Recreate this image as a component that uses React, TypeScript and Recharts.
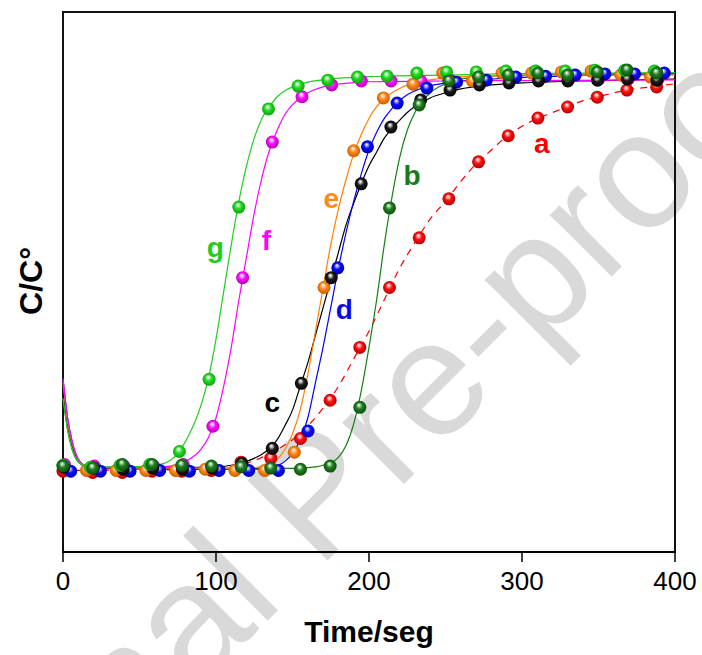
import React from "react";
import { ComposedChart, XAxis, YAxis, Line, Scatter, ReferenceArea } from "recharts";

const xTicks = [0, 100, 200, 300, 400];

// measured points (time, C/C°)
const tA = [0, 19.4, 38.8, 58.2, 77.6, 97, 116.4, 135.8, 155.2, 174.6, 194, 213.4, 232.8, 252.2, 271.6, 291, 310.4, 329.8, 349.2, 368.6, 388];
const vA = [-0.005, -0.008, -0.008, -0.005, -0.005, -0.003, 0.018, 0.028, 0.078, 0.175, 0.309, 0.461, 0.587, 0.686, 0.78, 0.846, 0.891, 0.919, 0.944, 0.962, 0.97];

const tB = [0, 19.4, 38.8, 58.2, 77.6, 97, 116.4, 135.8, 155.2, 174.6, 194, 213.4, 232.8, 252.2, 271.6, 291, 310.4, 329.8, 349.2, 368.6, 388];
const vB = [0.008, 0.003, 0.012, 0.012, 0.01, 0.008, 0.006, 0.003, 0.0, 0.008, 0.157, 0.663, 0.924, 0.985, 0.995, 1.0, 1.005, 1.0, 1.008, 1.013, 1.005];

const tC = [0.5, 19.9, 39.3, 58.7, 78.1, 97.5, 116.9, 136.8, 155.8, 175.3, 194.9, 214.3, 233.8, 253, 272.2, 291.5, 310.8, 330, 349.4, 368.8, 388.2];
const vC = [0.005, 0.003, 0.0, 0.003, 0.0, 0.003, 0.015, 0.053, 0.218, 0.486, 0.724, 0.868, 0.937, 0.962, 0.975, 0.98, 0.985, 0.985, 0.987, 0.99, 0.987];

const tD = [5, 24.4, 43.8, 63.2, 82.6, 102, 121.4, 140.8, 160.2, 179.6, 199, 218.4, 237.8, 257.2, 276.6, 296, 315.4, 334.8, 354.2, 373.6, 393];
const vD = [-0.005, -0.005, -0.005, -0.003, -0.005, -0.003, -0.003, -0.003, 0.097, 0.511, 0.818, 0.929, 0.967, 0.982, 0.987, 0.995, 0.997, 1.0, 1.003, 1.003, 1.005];

const tE = [15.4, 34.8, 54.2, 73.6, 93, 112.4, 131.8, 151.2, 170.6, 190, 209.4, 228.8, 248.2, 267.6, 287, 306.4, 325.8, 345.2, 364.6, 384];
const vE = [-0.003, -0.003, -0.003, -0.003, 0.0, -0.003, -0.003, 0.043, 0.461, 0.808, 0.942, 0.977, 1.005, 0.985, 1.005, 1.005, 1.008, 1.01, 1.0, 0.995];

const tF = [1, 20.4, 39.8, 59.2, 78.6, 98, 117.4, 136.8, 156.2, 175.6, 195, 214.4, 233.8, 253.2, 272.6, 292, 311.4, 330.8, 350.2, 369.6, 389];
const vF = [0.012, 0.008, 0.008, 0.008, 0.012, 0.109, 0.486, 0.83, 0.945, 0.975, 0.985, 0.985, 0.985, 0.987, 0.987, 0.987, 0.99, 0.99, 0.99, 0.99, 0.99];

const tG = [0, 17.9, 37.3, 56.7, 76.1, 95.5, 114.9, 134.3, 153.7, 173.1, 192.5, 211.9, 231.3, 250.7, 270.1, 289.5, 308.9, 328.3, 347.7, 367.1, 386.5];
const vG = [0.01, 0.005, 0.01, 0.012, 0.045, 0.228, 0.665, 0.914, 0.972, 0.987, 0.995, 0.997, 1.005, 1.008, 1.008, 1.01, 1.01, 1.01, 1.012, 1.012, 1.01];

// fitted curves
const fxA = [0, 100, 110, 120, 130, 140, 150, 160, 170, 180, 190, 200, 210, 220, 230, 240, 250, 260, 270, 280, 290, 300, 310, 320, 330, 340, 350, 360, 370, 380, 390, 400];
const fyA = [-0.003, 0.0, 0.005, 0.015, 0.03, 0.05, 0.075, 0.11, 0.155, 0.21, 0.28, 0.35, 0.43, 0.51, 0.575, 0.635, 0.68, 0.73, 0.775, 0.81, 0.845, 0.87, 0.89, 0.905, 0.92, 0.935, 0.945, 0.955, 0.963, 0.968, 0.973, 0.978];

const fxB = [0, 3, 6, 10, 15, 20, 60, 150, 160, 165, 170, 175, 180, 185, 190, 195, 200, 205, 210, 215, 220, 225, 230, 240, 250, 260, 280, 300, 350, 400];
const fyB = [0.18, 0.1, 0.05, 0.018, 0.006, 0.003, 0.002, 0.002, 0.004, 0.006, 0.01, 0.016, 0.03, 0.06, 0.115, 0.2, 0.31, 0.43, 0.57, 0.69, 0.79, 0.86, 0.905, 0.955, 0.978, 0.99, 0.997, 1.0, 1.003, 1.005];

const fxC = [0, 3, 6, 10, 15, 20, 60, 100, 110, 120, 130, 135, 140, 145, 150, 155, 160, 165, 170, 175, 180, 185, 190, 195, 200, 205, 210, 215, 220, 225, 230, 240, 250, 260, 280, 300, 350, 400];
const fyC = [0.2, 0.11, 0.06, 0.022, 0.008, 0.005, 0.005, 0.005, 0.01, 0.02, 0.038, 0.052, 0.075, 0.11, 0.15, 0.21, 0.27, 0.34, 0.41, 0.48, 0.55, 0.62, 0.675, 0.725, 0.77, 0.805, 0.84, 0.865, 0.885, 0.905, 0.92, 0.942, 0.955, 0.965, 0.975, 0.98, 0.986, 0.99];

const fxD = [0, 3, 6, 10, 15, 20, 60, 130, 135, 140, 145, 150, 155, 160, 165, 170, 175, 180, 185, 190, 195, 200, 205, 210, 215, 220, 225, 230, 240, 250, 260, 280, 300, 350, 400];
const fyD = [0.23, 0.13, 0.07, 0.025, 0.007, 0.002, 0.0, 0.0, 0.002, 0.008, 0.02, 0.04, 0.075, 0.13, 0.22, 0.31, 0.41, 0.51, 0.6, 0.68, 0.75, 0.81, 0.855, 0.89, 0.915, 0.935, 0.95, 0.96, 0.973, 0.98, 0.985, 0.99, 0.994, 1.0, 1.003];

const fxE = [0, 3, 6, 10, 15, 20, 60, 120, 130, 135, 140, 145, 150, 155, 160, 165, 170, 175, 180, 185, 190, 195, 200, 205, 210, 215, 220, 230, 240, 250, 260, 280, 300, 400];
const fyE = [0.22, 0.12, 0.065, 0.025, 0.008, 0.004, 0.003, 0.003, 0.006, 0.012, 0.025, 0.05, 0.09, 0.15, 0.24, 0.35, 0.46, 0.57, 0.66, 0.735, 0.8, 0.85, 0.89, 0.92, 0.94, 0.955, 0.966, 0.98, 0.988, 0.993, 0.996, 0.998, 1.0, 1.0];

const fxF = [0, 3, 6, 10, 15, 20, 40, 60, 70, 80, 90, 95, 100, 105, 110, 115, 120, 125, 130, 135, 140, 145, 150, 155, 160, 170, 180, 190, 200, 250, 300, 400];
const fyF = [0.23, 0.13, 0.07, 0.025, 0.008, 0.005, 0.005, 0.006, 0.008, 0.02, 0.05, 0.08, 0.13, 0.21, 0.31, 0.43, 0.54, 0.65, 0.74, 0.81, 0.86, 0.9, 0.925, 0.942, 0.955, 0.97, 0.977, 0.981, 0.983, 0.985, 0.986, 0.988];

const fxG = [0, 3, 6, 10, 15, 20, 40, 60, 70, 80, 90, 95, 100, 105, 110, 115, 120, 125, 130, 135, 140, 145, 150, 160, 170, 180, 190, 200, 220, 250, 300, 350, 400];
const fyG = [0.18, 0.1, 0.05, 0.02, 0.008, 0.006, 0.006, 0.01, 0.022, 0.07, 0.16, 0.23, 0.33, 0.45, 0.57, 0.68, 0.77, 0.84, 0.89, 0.92, 0.945, 0.96, 0.97, 0.982, 0.988, 0.992, 0.994, 0.996, 0.998, 1.0, 1.004, 1.005, 1.006];

// curve labels
const labelNames = ["a", "b", "c", "d", "e", "f", "g"];
const labelX = [313, 228.2, 136.8, 183.8, 175.3, 132.9, 99.6];
const labelY = [0.802, 0.721, 0.145, 0.381, 0.663, 0.556, 0.538];

const pts = (xs: number[], ys: number[]) => xs.map((x, i) => ({ x, y: ys[i] }));

type S = { key: string; base: string; dark: string; light: string; line: string; dashed?: boolean; t: number[]; v: number[]; fx: number[]; fy: number[]; label: string };

const series: Record<string, S> = {
  a: { key: "a", base: "#ff1010", dark: "#a80000", light: "#ffb0b0", line: "#ff0000", dashed: true, t: tA, v: vA, fx: fxA, fy: fyA, label: "#ff0000" },
  b: { key: "b", base: "#1f7f1f", dark: "#0a470a", light: "#a8d0a8", line: "#138013", t: tB, v: vB, fx: fxB, fy: fyB, label: "#1a7a1a" },
  c: { key: "c", base: "#1c1c1c", dark: "#000000", light: "#c0c0c0", line: "#000000", t: tC, v: vC, fx: fxC, fy: fyC, label: "#000000" },
  d: { key: "d", base: "#0a0aff", dark: "#00009a", light: "#a8a8ff", line: "#0000ff", t: tD, v: vD, fx: fxD, fy: fyD, label: "#0a0ae6" },
  e: { key: "e", base: "#ff8a1a", dark: "#c05400", light: "#ffd0a0", line: "#ff8000", t: tE, v: vE, fx: fxE, fy: fyE, label: "#ff8a1a" },
  f: { key: "f", base: "#ff10ff", dark: "#a800a8", light: "#ffb8ff", line: "#ff00ff", t: tF, v: vF, fx: fxF, fy: fyF, label: "#ff00ff" },
  g: { key: "g", base: "#22dd22", dark: "#0c980c", light: "#b8f4b8", line: "#22cc22", t: tG, v: vG, fx: fxG, fy: fyG, label: "#22cc22" },
};

const lineOrder = ["a", "b", "c", "d", "e", "f", "g"];
const dotOrder = ["f", "a", "d", "e", "c", "g", "b"];

const labelData = labelNames.map((n, i) => ({ x: labelX[i], y: labelY[i], name: n }));

const FONT = "'Liberation Sans', Arial, Helvetica, sans-serif";

const LabelText = (p: any) => {
  if (p.cx == null) return null;
  const n = p.payload.name;
  return (
    <text x={p.cx} y={p.cy} textAnchor="middle" fontFamily={FONT} fontWeight="bold" fontSize={28} fill={series[n].label}>
      {n}
    </text>
  );
};

export default function App() {
  return (
    <div style={{ position: "absolute", left: 0, top: 0, width: 702, height: 655, background: "#fff", overflow: "hidden" }}>
      <svg width={702} height={655} style={{ position: "absolute", left: 0, top: 0 }}>
        <text
          x={-97}
          y={985}
          transform="rotate(-45 -97 985)"
          fontFamily={FONT}
          fontSize={165}
          fill="#d9d9d9"
        >
          Journal Pre-proof
        </text>
      </svg>
      <div style={{ position: "absolute", left: 0, top: 0 }}>
        <ComposedChart width={702} height={655} margin={{ top: 12, right: 27, bottom: 0, left: 63 }}>
          <defs>
            {lineOrder.map((k) => {
              const s = series[k];
              return (
                <radialGradient key={k} id={`ball-${k}`} cx="50%" cy="50%" r="55%" fx="42%" fy="30%">
                  <stop offset="0%" stopColor="#ffffff" />
                  <stop offset="18%" stopColor={s.light} />
                  <stop offset="45%" stopColor={s.base} />
                  <stop offset="100%" stopColor={s.dark} />
                </radialGradient>
              );
            })}
          </defs>
          <XAxis
            type="number"
            dataKey="x"
            domain={[0, 400]}
            ticks={xTicks}
            height={103}
            tickSize={10}
            tickMargin={10}
            axisLine={{ stroke: "#000", strokeWidth: 2 }}
            tickLine={{ stroke: "#000", strokeWidth: 1.5 }}
            tick={{ fontSize: 26, fill: "#000", fontFamily: FONT }}
            label={{ value: "Time/seg", position: "insideBottom", offset: 13, fontSize: 30, fontWeight: "bold", fill: "#000", fontFamily: FONT }}
          />
          <YAxis type="number" dataKey="y" domain={[-0.21, 1.16]} hide />
          <ReferenceArea x1={0} x2={400} y1={-0.21} y2={1.16} stroke="#111" strokeWidth={2} fill="none" fillOpacity={0} ifOverflow="visible" />
          {lineOrder.map((k) => {
            const s = series[k];
            return (
              <Line
                key={`fit-${k}`}
                data={pts(s.fx, s.fy)}
                dataKey="y"
                type="monotone"
                stroke={s.line}
                strokeWidth={1.2}
                strokeDasharray={s.dashed ? "7 6" : undefined}
                dot={false}
                activeDot={false}
                isAnimationActive={false}
                legendType="none"
              />
            );
          })}
          {dotOrder.map((k) => {
            const s = series[k];
            return (
              <Scatter
                key={`pts-${k}`}
                data={pts(s.t, s.v)}
                dataKey="y"
                isAnimationActive={false}
                shape={(p: any) => (p.cx == null ? <g /> : <circle cx={p.cx} cy={p.cy} r={6.5} fill={`url(#ball-${k})`} />)}
              />
            );
          })}
          <Scatter data={labelData} dataKey="y" isAnimationActive={false} shape={LabelText} />
        </ComposedChart>
      </div>
      <svg width={702} height={655} style={{ position: "absolute", left: 0, top: 0, pointerEvents: "none" }}>
        <text
          x={42}
          y={281}
          transform="rotate(-90 42 281)"
          textAnchor="middle"
          fontFamily={FONT}
          fontWeight="bold"
          fontSize={32}
          fill="#000"
        >
          C/C°
        </text>
      </svg>
    </div>
  );
}
